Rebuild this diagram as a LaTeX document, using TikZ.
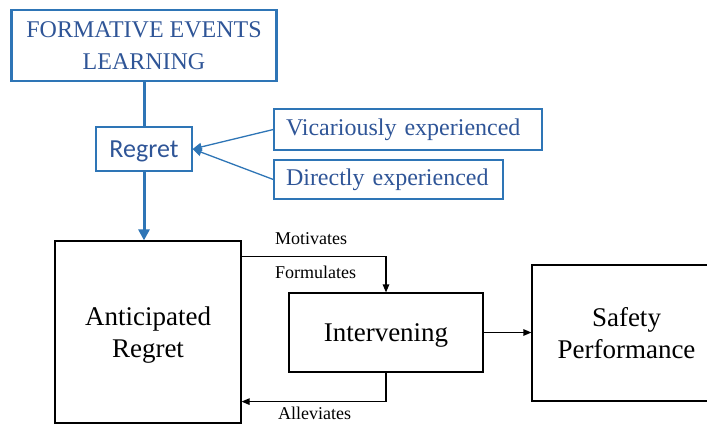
\documentclass[tikz,border=0pt]{standalone}
\usepackage{fontspec}
\setmainfont{Liberation Serif}
\newfontfamily\calibri{Carlito}
\usetikzlibrary{arrows.meta}
\definecolor{bluetext}{RGB}{47,85,151}
\definecolor{blueline}{RGB}{46,117,182}
\begin{document}
\begin{tikzpicture}[x=1pt,y=-1pt,
  bluebox/.style={draw=blueline,line width=1.3pt,text=bluetext,inner sep=0pt,align=center},
  leftbox/.style={draw=blueline,line width=1.3pt,text=bluetext,inner xsep=12pt,inner ysep=0pt,align=left,font=\fontsize{24}{28}\selectfont},
  blackbox/.style={draw=black,line width=1.2pt,inner sep=0pt,align=center,text depth=0pt,font=\fontsize{27}{32}\selectfont},
  lbl/.style={inner sep=0pt,font=\fontsize{18}{20}\selectfont},
  blk/.style={line width=1.2pt,-{Triangle[length=8pt,width=6.5pt]}},
  blu/.style={draw=blueline,line width=1.3pt,-{Triangle[length=9pt,width=8pt]}}]
\useasboundingbox (0,0) rectangle (707,424);
\node[bluebox,line width=2.8pt,minimum width=265pt,minimum height=71pt,font=\fontsize{24}{32}\selectfont] (form) at (144,45.5) {FORMATIVE EVENTS\\LEARNING};
\node[bluebox,minimum width=96pt,minimum height=44pt,text depth=0pt,font=\calibri\fontsize{26}{28}\selectfont] (reg) at (144,149) {Regret};
\node[leftbox,text width=244pt,minimum height=41pt] (vic) at (408,129.5) {Vicariously experienced};
\node[leftbox,text width=205pt,minimum height=39pt] (dir) at (388.5,179.5) {Directly experienced};
\node[blackbox,minimum width=186pt,minimum height=182pt] (ant) at (148,332) {Anticipated\\Regret};
\node[blackbox,minimum width=194pt,minimum height=79pt] (int) at (386,332.5) {Intervening};
\node[blackbox,minimum width=189pt,minimum height=136pt] (saf) at (626.5,333) {Safety\\Performance};
\draw[draw=blueline,line width=3pt] (form.south) -- (reg.north);
\draw[draw=blueline,line width=3pt,-{Triangle[length=11pt,width=11pt]}] (reg.south) -- (reg.south |- ant.north);
\draw[blu] (vic.west) -- (reg.east);
\draw[blu] (dir.west) -- (reg.east);
\draw[blk] ([yshift=-16pt]ant.north east) -| (int.north);
\draw[blk] (int.south) |- ([yshift=22pt]ant.south east);
\draw[blk] (int.east) -- (saf.west |- int.east);
\node[lbl,anchor=base west] (mot) at (275,244) {Motivates};
\node[lbl,anchor=base west] (fml) at (275,278) {Formulates};
\node[lbl,anchor=base west] (alv) at (278,419) {Alleviates};
\end{tikzpicture}
\end{document}
